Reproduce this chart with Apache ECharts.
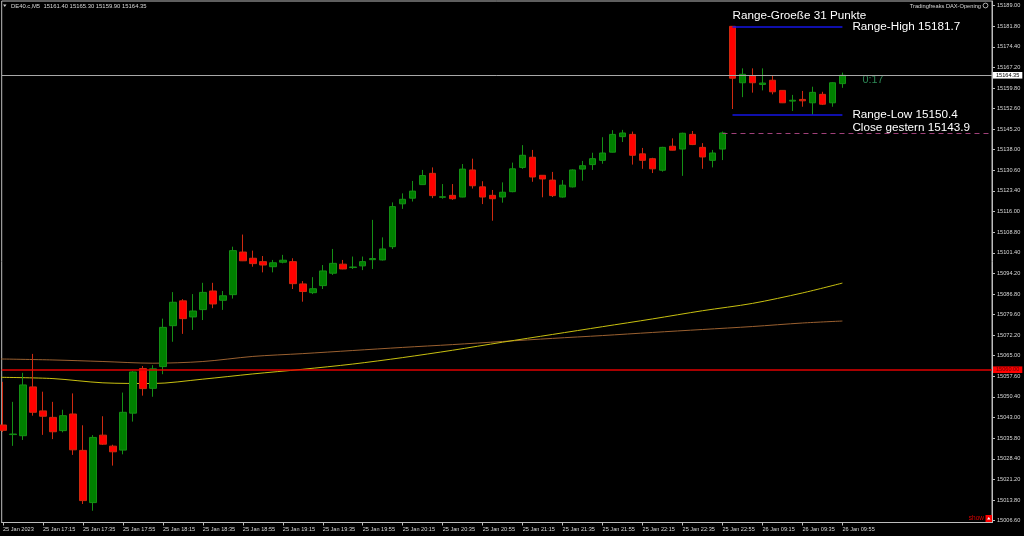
<!DOCTYPE html>
<html><head><meta charset="utf-8">
<script src="https://cdn.jsdelivr.net/npm/echarts@6/dist/echarts.min.js"></script>
<style>html,body{margin:0;padding:0;background:#000;}#c{width:1024px;height:536px;}</style>
</head><body><div id="c"></div>
<script>
// ---- data (DE40.c, M5) ----
const opens  = [15040.4,15037.0,15036.6,15053.9,15045.4,15043.1,15038.4,15044.3,15031.4,15012.9,
                15036.8,15032.9,15031.5,15044.6,15060.4,15053.4,15061.1,15075.6,15084.4,15078.7,
                15081.3,15087.9,15084.6,15086.6,15101.7,15099.5,15098.3,15096.5,15098.1,15098.3,
                15090.4,15087.3,15089.8,15094.2,15097.4,15096.2,15096.8,15099.0,15098.9,15103.6,
                15118.8,15120.8,15125.6,15129.6,15121.1,15121.8,15121.2,15130.8,15124.8,15121.8,
                15121.2,15123.1,15131.7,15135.3,15128.9,15127.2,15121.2,15124.8,15131.1,15132.7,
                15134.2,15137.1,15142.6,15143.4,15136.5,15134.8,15130.7,15139.2,15138.2,15143.4,
                15138.8,15134.2,15138.2,15181.7,15161.7,15164.2,15161.1,15162.6,15159.0,15155.2,
                15155.8,15154.6,15157.6,15154.6,15161.4];
const highs  = [15055.7,15048.6,15058.9,15065.6,15052.2,15048.6,15045.8,15051.6,15040.3,15036.8,
                15043.5,15033.4,15051.9,15059.5,15061.3,15061.6,15078.1,15087.5,15085.0,15086.8,
                15090.8,15090.8,15087.9,15103.6,15107.9,15102.2,15100.3,15098.9,15100.7,15099.5,
                15091.4,15092.8,15097.1,15102.8,15098.9,15100.1,15100.1,15113.1,15106.9,15119.3,
                15122.5,15126.9,15130.8,15131.7,15125.8,15125.8,15132.9,15134.8,15126.8,15123.7,
                15126.4,15133.4,15139.6,15137.9,15129.0,15130.1,15127.2,15131.0,15134.0,15136.9,
                15142.4,15144.9,15145.0,15144.4,15138.6,15135.1,15139.0,15142.0,15144.0,15144.6,
                15140.3,15137.9,15144.4,15181.7,15166.8,15166.8,15166.8,15164.2,15159.1,15157.4,
                15158.8,15160.3,15158.5,15161.9,15165.3];
const lows   = [15037.9,15033.0,15035.1,15043.7,15036.9,15035.4,15037.8,15029.8,15012.4,15010.0,
                15033.3,15026.0,15030.0,15041.6,15050.8,15050.4,15058.4,15069.9,15072.7,15074.1,
                15077.6,15081.8,15081.2,15085.2,15098.5,15096.5,15094.5,15094.5,15097.7,15088.6,
                15084.1,15086.8,15088.6,15093.6,15095.6,15095.7,15095.3,15095.7,15098.7,15102.8,
                15117.0,15119.6,15125.5,15120.8,15120.6,15120.2,15121.1,15124.2,15118.7,15112.8,
                15119.2,15122.9,15131.2,15126.6,15121.1,15121.2,15121.0,15124.6,15127.0,15130.8,
                15133.0,15137.0,15140.7,15132.7,15131.2,15129.7,15130.2,15137.7,15128.7,15139.6,
                15131.2,15131.7,15134.3,15152.4,15156.6,15158.2,15159.0,15157.6,15154.5,15151.7,
                15153.2,15150.4,15153.8,15153.2,15159.9];
const closes = [15038.5,15037.2,15054.6,15044.9,15043.5,15038.0,15043.7,15031.6,15013.6,15036.0,
                15033.6,15030.9,15044.9,15059.2,15053.3,15060.3,15075.0,15083.9,15078.1,15080.8,
                15087.4,15083.3,15086.2,15102.2,15098.6,15097.6,15097.1,15097.9,15098.8,15090.5,
                15087.7,15088.7,15095.0,15097.7,15095.7,15096.4,15098.3,15099.4,15102.8,15117.8,
                15120.4,15123.3,15128.8,15121.7,15121.3,15120.6,15131.1,15125.2,15121.2,15120.6,
                15122.9,15131.2,15136.0,15128.3,15127.6,15121.7,15125.4,15130.8,15132.3,15134.8,
                15136.8,15143.4,15143.9,15136.0,15134.2,15131.2,15138.8,15137.8,15143.8,15139.8,
                15135.4,15136.8,15143.9,15163.3,15164.7,15161.7,15161.6,15158.5,15154.6,15155.5,
                15155.3,15158.3,15154.1,15161.7,15164.35];

// moving averages read at bar positions
const maIdx    = [-0.23, 5, 10, 15, 20, 25, 30, 35, 40, 45, 50, 55, 60, 65, 70, 75, 80, 84];
const maYellow = [15057.3,15056.85,15055.35,15055.1,15056.65,15058.5,15060.15,15062.0,15064.3,15066.9,
                  15069.75,15072.5,15075.25,15078.0,15080.9,15083.5,15087.2,15090.7];
const maBrown  = [15063.8,15063.45,15062.9,15062.3,15062.9,15064.7,15065.7,15066.8,15067.9,15068.9,
                  15070.0,15071.1,15072.1,15073.2,15074.25,15075.3,15076.55,15077.25];

// levels
const currentPrice = 15164.35;
const redLevel = 15060.00;
const rangeHigh = 15181.7, rangeLow = 15150.4, closeYesterday = 15143.9;
const rangeStart = 73, rangeEnd = 84, closeStart = 72;

// tick labels
const yTicks = [15006.6,15013.8,15021.2,15028.4,15035.8,15043.0,15050.4,15057.6,15065.0,15072.2,
                15079.6,15086.8,15094.2,15101.4,15108.8,15116.0,15123.4,15130.6,15138.0,15145.2,
                15152.6,15159.8,15167.2,15174.4,15181.8,15189.0];
const xTickLabels = ['25 Jan 2023','25 Jan 17:15','25 Jan 17:35','25 Jan 17:55','25 Jan 18:15','25 Jan 18:35',
                     '25 Jan 18:55','25 Jan 19:15','25 Jan 19:35','25 Jan 19:55','25 Jan 20:15','25 Jan 20:35',
                     '25 Jan 20:55','25 Jan 21:15','25 Jan 21:35','25 Jan 21:55','25 Jan 22:15','25 Jan 22:35',
                     '25 Jan 22:55','26 Jan 09:15','26 Jan 09:35','26 Jan 09:55'];
const xTickIdx = xTickLabels.map((_, i) => i * 4);

const FF = 'Liberation Sans';
const candleData = opens.map((o, i) => [i, o, closes[i], lows[i], highs[i]]);

const chart = echarts.init(document.getElementById('c'), null, {renderer: 'canvas'});
chart.setOption({
  backgroundColor: '#000000',
  animation: false,
  grid: {left: 1, right: 32, top: 1, bottom: 13.5, show: true, borderColor: '#bdbdbd', borderWidth: 1},
  xAxis: {
    type: 'value', min: -0.13, max: 98.97,
    axisLine: {show: true, onZero: false, lineStyle: {color: '#bdbdbd'}},
    splitLine: {show: false},
    axisTick: {show: true, customValues: xTickIdx, length: 3, lineStyle: {color: '#bdbdbd'}},
    axisLabel: {customValues: xTickIdx, formatter: v => xTickLabels[xTickIdx.indexOf(v)],
                color: '#d8d8d8', fontSize: 5.6, fontFamily: FF, align: 'left', margin: 4}
  },
  yAxis: {
    type: 'value', position: 'right', min: 15005.84, max: 15190.68, scale: true,
    axisLine: {show: true, onZero: false, lineStyle: {color: '#bdbdbd'}},
    splitLine: {show: false},
    axisTick: {show: true, customValues: yTicks, length: 3, lineStyle: {color: '#bdbdbd'}},
    axisLabel: {customValues: yTicks, formatter: v => v.toFixed(2),
                color: '#d8d8d8', fontSize: 5.6, fontFamily: FF, margin: 5}
  },
  series: [
    {
      type: 'line', name: 'MA slow', data: maIdx.map((x, i) => [x, maBrown[i]]),
      smooth: 0.3, showSymbol: false, lineStyle: {color: '#9a6030', width: 1}, z: 1
    },
    {
      type: 'line', name: 'MA fast', data: maIdx.map((x, i) => [x, maYellow[i]]),
      smooth: 0.3, showSymbol: false, lineStyle: {color: '#c8c010', width: 1}, z: 1,
      markLine: {
        silent: true, symbol: ['none', 'none'], animation: false,
        data: [
          {yAxis: currentPrice, lineStyle: {color: '#a8a8a8', width: 1, type: 'solid'},
           label: {show: true, position: 'end', formatter: currentPrice.toFixed(2), backgroundColor: '#ffffff',
                   color: '#000', fontSize: 5.6, fontFamily: FF, padding: [0.5, 3], lineHeight: 5.6, distance: 1}},
          {yAxis: redLevel, lineStyle: {color: '#e00000', width: 1.5, type: 'solid'},
           label: {show: true, position: 'end', formatter: redLevel.toFixed(2), backgroundColor: '#ff0000',
                   color: '#600000', fontSize: 5.6, fontFamily: FF, padding: [0.5, 3], lineHeight: 5.6, distance: 1}},
          [{coord: [rangeStart, rangeHigh], lineStyle: {color: '#1414e6', width: 1.5, type: 'solid'},
            label: {show: true, position: 'end', formatter: 'Range-High ' + rangeHigh.toFixed(1), color: '#ffffff',
                    fontSize: 11.7, fontFamily: FF, distance: 10}},
           {coord: [rangeEnd, rangeHigh]}],
          [{coord: [rangeStart, rangeLow], lineStyle: {color: '#1414e6', width: 1.5, type: 'solid'},
            label: {show: true, position: 'end', formatter: 'Range-Low ' + rangeLow.toFixed(1), color: '#ffffff',
                    fontSize: 11.7, fontFamily: FF, distance: 10}},
           {coord: [rangeEnd, rangeLow]}],
          [{coord: [closeStart, closeYesterday], lineStyle: {color: '#a0407a', width: 1, type: [5, 4]},
            label: {show: false}},
           {coord: [98.97, closeYesterday]}]
        ]
      }
    },
    {
      type: 'candlestick', name: 'DE40.c,M5', data: candleData,
      encode: {x: 0, y: [1, 2, 3, 4]},
      barWidth: 7, z: 3,
      itemStyle: {color: '#008000', color0: '#ff0000', borderColor: '#159015', borderColor0: '#d02a10', borderWidth: 1}
    }
  ]
});

const P = (i, v) => chart.convertToPixel({gridIndex: 0}, [i, v]);
const pHigh = P(rangeStart, rangeHigh);
const pEnd = P(rangeEnd, closeYesterday);
const pCur = P(rangeEnd, currentPrice);
const rangePts = Math.round(rangeHigh - rangeLow);

chart.setOption({
  graphic: [
    {type: 'polygon', shape: {points: [[3, 4.5], [6.5, 4.5], [4.75, 7]]}, style: {fill: '#cfcfcf'}},
    {type: 'text', x: 11, y: 6, style: {text: 'DE40.c,M5  ' + [opens[84], highs[84], lows[84], closes[84]].map(v => v.toFixed(2)).join(' '),
      fill: '#d8d8d8', fontSize: 5.9, fontFamily: FF, verticalAlign: 'middle'}},
    {type: 'text', x: 981, y: 6, style: {text: 'Tradingfreaks DAX-Opening', fill: '#d8d8d8', fontSize: 5.7, fontFamily: FF,
      align: 'right', verticalAlign: 'middle'}},
    {type: 'circle', shape: {cx: 985.5, cy: 5.5, r: 2.4}, style: {fill: 'none', stroke: '#d8d8d8', lineWidth: 0.8}},
    {type: 'text', x: pHigh[0], y: pHigh[1] - 11, style: {text: 'Range-Groeße ' + rangePts + ' Punkte', fill: '#ffffff',
      fontSize: 11.7, fontFamily: FF, verticalAlign: 'middle'}},
    {type: 'text', x: pEnd[0] + 10, y: pEnd[1] - 5.6, style: {text: 'Close gestern ' + closeYesterday.toFixed(1), fill: '#ffffff',
      fontSize: 11.7, fontFamily: FF, verticalAlign: 'middle'}},
    {type: 'text', x: pCur[0] + 20, y: pCur[1] + 4.6, style: {text: '0:17', fill: '#2e8b57',
      fontSize: 10.8, fontFamily: FF, verticalAlign: 'middle'}},
    {type: 'text', x: 984, y: 518.5, style: {text: 'show', fill: '#e00000', fontSize: 6.5, fontFamily: FF,
      align: 'right', verticalAlign: 'middle'}},
    {type: 'rect', shape: {x: 985.5, y: 515, width: 6.5, height: 7}, style: {fill: '#ff0000'}},
    {type: 'polygon', shape: {points: [[987, 519.5], [990.5, 519.5], [988.75, 517]]}, style: {fill: '#ffffff'}}
  ]
});
</script>
</body></html>
